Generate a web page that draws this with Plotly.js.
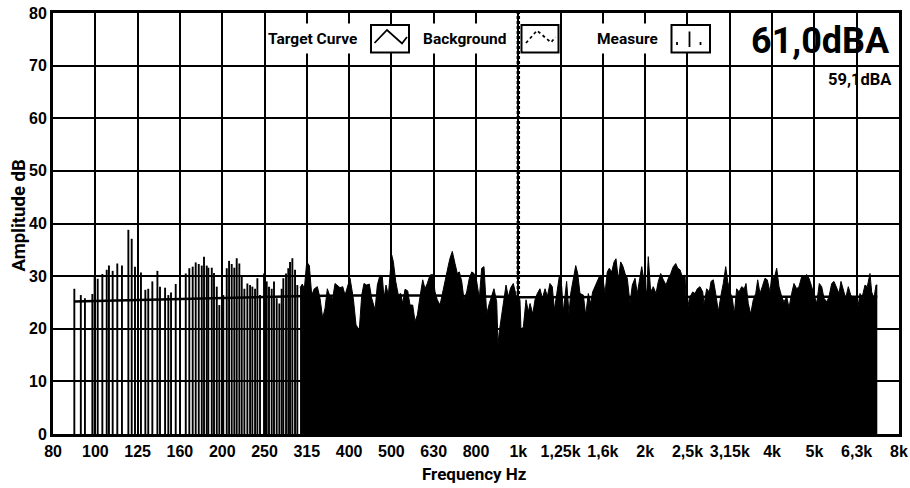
<!DOCTYPE html>
<html>
<head>
<meta charset="utf-8">
<script src="https://cdn.plot.ly/plotly-3.0.1.min.js"></script>
<style>html,body{margin:0;padding:0;background:#fff;}#chart{width:910px;height:488px;}</style>
</head>
<body>
<div id="chart"></div>
<script>
// ---- data ----
const tickFreq = [79.43, 100, 125.89, 158.49, 199.53, 251.19, 316.23, 398.11, 501.19, 630.96, 794.33, 1000, 1258.9, 1584.9, 1995.3, 2511.9, 3162.3, 3981.1, 5011.9, 6309.6, 7943.2];
const tickText = ['80','100','125','160','200','250','315','400','500','630','800','1k','1,25k','1,6k','2k','2,5k','3,15k','4k','5k','6,3k','8k'];
const yTicks = [0,10,20,30,40,50,60,70,80];

// individual FFT lines (low frequencies)
const lineFreq = [89.2, 92.4, 94.5, 98.4, 99.6, 101.3, 103.9, 106.4, 107.7, 109.9, 112.7, 115.6, 119.7, 121.9, 124.1, 128.2, 131.3, 133.4, 136.4, 140.2, 142.2, 146.2, 148.8, 151.0, 154.9, 158.6, 163.6, 166.8, 169.9, 172.7, 175.6, 178.5, 180.7, 183.4, 185.0, 188.5, 190.8, 193.7, 196.4, 200.7, 204.5, 207.1, 210.1, 213.1, 215.9, 219.0, 221.9, 225.1, 228.8, 232.2, 235.1, 238.6, 241.6, 245.1, 250.5, 254.2, 257.4, 261.2, 264.5, 268.4, 272.3, 275.8, 278.3, 282.4, 285.9, 288.6, 292.3, 296.6, 300.3];
const lineAmp = [27.6, 26.4, 25.8, 26.6, 30.1, 29.5, 30.4, 31.2, 32.0, 31.0, 32.4, 32.0, 38.8, 37.1, 31.8, 30.7, 27.4, 27.6, 29.0, 31.0, 28.0, 27.8, 26.4, 26.9, 28.5, 27.2, 30.5, 31.5, 31.8, 32.6, 32.3, 32.0, 33.7, 32.0, 31.6, 31.6, 30.6, 28.0, 24.5, 26.4, 31.5, 32.9, 32.3, 31.6, 33.4, 32.4, 29.9, 27.6, 28.6, 28.3, 28.0, 27.6, 29.6, 26.4, 30.5, 29.0, 28.0, 27.6, 29.0, 25.8, 24.8, 27.6, 29.6, 30.5, 31.5, 32.7, 33.4, 31.2, 28.3];

// dense part of the spectrum (peak envelope)
const denseFreq = [304.8, 308.6, 312.0, 316.1, 320.6, 324.8, 329.4, 334.9, 339.8, 344.8, 349.2, 353.6, 358.9, 364.2, 368.7, 373.4, 378.9, 384.5, 389.4, 400.1, 407.3, 413.4, 420.8, 426.4, 431.7, 438.1, 444.4, 450.2, 458.5, 464.2, 471.0, 477.0, 481.4, 486.7, 492.9, 502.0, 506.4, 513.1, 520.4, 527.3, 533.0, 539.7, 547.7, 554.6, 562.8, 569.9, 577.2, 585.6, 594.3, 601.8, 609.3, 618.5, 627.6, 635.5, 643.5, 653.0, 664.9, 674.7, 683.2, 689.5, 698.2, 708.5, 717.5, 725.4, 734.9, 744.2, 755.1, 765.9, 776.1, 785.8, 797.3, 808.7, 819.3, 829.7, 842.0, 854.0, 865.2, 876.0, 889.1, 895.4, 901.8, 913.7, 925.1, 935.3, 947.1, 959.5, 973.2, 987.6, 1009, 1015, 1028, 1043, 1056, 1066, 1082, 1095, 1109, 1125, 1140, 1157, 1171, 1188, 1203, 1217, 1233, 1250, 1266.5, 1277.5, 1301, 1318, 1330, 1349, 1367, 1382, 1399, 1425, 1443, 1464, 1483, 1499, 1518, 1537, 1560, 1583, 1603, 1623, 1641, 1663, 1684, 1702, 1724, 1746, 1765, 1788, 1810, 1837, 1860, 1888, 1911, 1932, 1958, 1983, 2012, 2029, 2056, 2085, 2116, 2143, 2171, 2202, 2235, 2263, 2293, 2325, 2356, 2382, 2412, 2442, 2478, 2501, 2537, 2584, 2617, 2650, 2689, 2729, 2748, 2788, 2829, 2855, 2891, 2929, 2971, 3015, 3052, 3093, 3127, 3166, 3206, 3241, 3283, 3325, 3374, 3422, 3454, 3497, 3543, 3594, 3642, 3681, 3727, 3774, 3830, 3878, 3936, 3972, 4029, 4082, 4134, 4195, 4247, 4311, 4365, 4429, 4485, 4552, 4609, 4677, 4737, 4807, 4867, 4939, 5001, 5075, 5147, 5215, 5281, 5359, 5427, 5507, 5576, 5659, 5731, 5793, 5866, 5943, 6028, 6108, 6195, 6276, 6344, 6424, 6505, 6601, 6685, 6783, 6846, 6932, 7009, 7059];
const denseAmp = [27.8, 28.5, 27.6, 32.7, 32.0, 26.4, 27.6, 28.0, 25.8, 22.0, 23.9, 27.6, 26.1, 25.8, 28.6, 28.3, 27.8, 28.0, 26.4, 29.6, 25.8, 20.7, 19.8, 26.4, 28.6, 28.3, 28.5, 25.8, 23.6, 28.3, 30.2, 29.9, 25.8, 28.3, 26.4, 34.0, 32.8, 29.0, 26.4, 26.7, 24.8, 27.5, 27.2, 24.5, 24.5, 21.4, 22.6, 26.1, 29.3, 27.6, 28.6, 30.2, 30.3, 27.0, 25.5, 24.5, 27.6, 30.5, 32.0, 33.4, 34.7, 32.4, 30.5, 30.8, 29.0, 25.5, 27.0, 29.6, 30.8, 30.5, 29.0, 25.8, 31.5, 31.8, 22.8, 24.8, 26.4, 27.6, 25.1, 17.0, 19.5, 22.6, 26.4, 28.3, 26.1, 27.8, 28.6, 26.4, 25.5, 19.6, 20.4, 25.5, 23.2, 24.8, 22.8, 25.5, 26.7, 27.6, 25.8, 27.6, 26.1, 28.6, 28.0, 23.6, 26.7, 29.9, 28.0, 23.2, 29.0, 22.8, 26.7, 29.9, 32.0, 30.5, 26.7, 26.4, 22.6, 26.7, 24.8, 27.0, 28.0, 29.3, 30.2, 29.9, 26.7, 30.8, 31.5, 30.8, 32.7, 33.3, 29.3, 32.7, 32.0, 30.5, 29.6, 24.8, 28.3, 29.6, 26.7, 29.0, 31.8, 29.0, 26.7, 33.7, 27.0, 28.0, 26.7, 29.0, 30.5, 29.3, 28.3, 29.6, 30.5, 31.8, 32.4, 31.5, 31.2, 29.9, 30.2, 22.6, 25.8, 27.0, 26.7, 27.6, 28.0, 27.0, 24.5, 27.6, 27.0, 29.0, 29.3, 26.7, 23.3, 26.4, 28.6, 31.8, 29.0, 27.0, 25.8, 22.8, 27.6, 27.0, 28.0, 27.6, 28.6, 24.8, 22.8, 25.5, 26.7, 29.3, 26.7, 28.0, 29.6, 29.3, 27.0, 29.9, 29.6, 31.5, 28.0, 26.1, 25.1, 26.1, 24.0, 26.7, 28.6, 27.6, 28.0, 29.9, 29.9, 30.3, 29.6, 28.0, 26.4, 24.8, 28.6, 28.0, 25.8, 25.1, 26.1, 28.6, 29.0, 27.6, 26.7, 29.0, 27.6, 25.8, 28.0, 26.4, 25.8, 26.1, 23.8, 26.7, 26.1, 28.3, 28.0, 30.5, 27.0, 25.8, 28.3, 28.3];

// target curve
const targetFreq = [89.2, 100, 125, 160, 200, 250, 315, 400, 500, 630, 1000, 2000, 4000, 7059];
const targetAmp  = [25.2, 25.3, 25.4, 25.6, 25.8, 26.0, 26.2, 26.3, 26.3, 26.3, 26.0, 26.1, 26.1, 26.1];

// cursor at 1 kHz
const cursorFreq = 1000;
const yRange = [0, 80];

// headline readings
const levelMain = '61,0dBA';
const levelSub = '59,1dBA';
const legendLabels = ['Target Curve', 'Background', 'Measure'];
const xTitle = 'Frequency Hz';
const yTitle = 'Amplitude dB';

// ---- build traces ----
const bx = [], by = [];
lineFreq.forEach((f, i) => { bx.push(f, f, null); by.push(0, lineAmp[i], null); });

const traces = [
  {x: bx, y: by, type: 'scatter', mode: 'lines', line: {color: '#000', width: 1.9}, hoverinfo: 'skip'},
  {x: denseFreq, y: denseAmp, type: 'scatter', mode: 'lines', fill: 'tozeroy', fillcolor: '#000', line: {color: '#000', width: 1}, hoverinfo: 'skip'},
  {x: targetFreq, y: targetAmp, type: 'scatter', mode: 'lines', line: {color: '#000', width: 2.5}, hoverinfo: 'skip'},
  {x: [cursorFreq, cursorFreq], y: yRange, type: 'scatter', mode: 'lines', line: {color: '#000', width: 3.5, dash: '3px,2px'}, hoverinfo: 'skip'}
];

// pixel helpers for the legend decorations (plot area 53..899 x 13..434)
const PX = X => (X - 53) / 846;
const PY = Y => (434 - Y) / 421;
const box = (x0, x1) => ({type: 'rect', xref: 'paper', yref: 'paper', x0: PX(x0), x1: PX(x1), y0: PY(52.5), y1: PY(25), line: {color: '#000', width: 2}, fillcolor: '#fff', layer: 'above'});
const pth = (pts, dash) => ({type: 'path', xref: 'paper', yref: 'paper', path: 'M ' + pts.map(p => PX(p[0]) + ',' + PY(p[1])).join(' L '), line: {color: '#000', width: 1.8, dash: dash || 'solid'}, layer: 'above'});

const shapes = [
  box(371, 409), pth([[374.5, 43], [387, 30], [402, 43.5], [407, 37]]),
  box(521.5, 558.5), pth([[526, 43], [537, 30.5], [551, 42.5], [555.5, 37]], 'dot'),
  box(671.5, 710), pth([[689.5, 31.5], [689.5, 47]]), pth([[677, 42], [677, 45]]), pth([[700.5, 42], [700.5, 45]])
];

const tfont = {family: 'Roboto, Liberation Sans, sans-serif', size: 15.5, color: '#000', weight: 'bold'};
const titleFont = {family: 'Roboto, Liberation Sans, sans-serif', size: 17, color: '#000', weight: 'bold'};
const annotations = [
  {text: legendLabels[0], x: PX(312.5), y: PY(38.5), xref: 'paper', yref: 'paper', xanchor: 'center', yanchor: 'middle', showarrow: false, font: tfont, bgcolor: '#fff', height: 27},
  {text: legendLabels[1], x: PX(465), y: PY(38.5), xref: 'paper', yref: 'paper', xanchor: 'center', yanchor: 'middle', showarrow: false, font: tfont, bgcolor: '#fff', height: 27},
  {text: legendLabels[2], x: PX(627.5), y: PY(38.5), xref: 'paper', yref: 'paper', xanchor: 'center', yanchor: 'middle', showarrow: false, font: tfont, bgcolor: '#fff', height: 27},
  {text: levelMain, x: PX(892), y: PY(41), xref: 'paper', yref: 'paper', xanchor: 'right', yanchor: 'middle', showarrow: false, font: {family: 'Roboto, Liberation Sans, sans-serif', size: 36, color: '#000', weight: 'bold'}},
  {text: levelSub, x: PX(894), y: PY(80), xref: 'paper', yref: 'paper', xanchor: 'right', yanchor: 'middle', showarrow: false, font: {family: 'Roboto, Liberation Sans, sans-serif', size: 16.5, color: '#000', weight: 'bold'}},
  {text: yTitle, textangle: -90, x: PX(18.5), y: PY(216), xref: 'paper', yref: 'paper', xanchor: 'center', yanchor: 'middle', showarrow: false, font: {family: 'Roboto, Liberation Sans, sans-serif', size: 18.5, color: '#000', weight: 'bold'}},
  {text: xTitle, x: PX(474), y: PY(474), xref: 'paper', yref: 'paper', xanchor: 'center', yanchor: 'middle', showarrow: false, font: titleFont}
];

const tickFont = {family: 'Liberation Sans, Arial, sans-serif', size: 16, color: '#000', weight: 'bold'};

const layout = {
  width: 910, height: 488,
  margin: {l: 53, r: 11, t: 13, b: 54, pad: 0},
  paper_bgcolor: '#fff', plot_bgcolor: '#fff',
  showlegend: false,
  xaxis: {
    type: 'log', range: [Math.log10(tickFreq[0]) - 0.00005, Math.log10(tickFreq[tickFreq.length - 1]) + 0.00005],
    tickmode: 'array', tickvals: tickFreq, ticktext: tickText, tickfont: tickFont,
    ticks: '', ticklabelstandoff: 1,
    showgrid: true, gridcolor: '#000', gridwidth: 2,
    showline: true, mirror: true, linecolor: '#000', linewidth: 3, zeroline: false
  },
  yaxis: {
    range: yRange, tickmode: 'array', tickvals: yTicks, ticktext: yTicks.map(String), tickfont: tickFont,
    ticks: '', ticklabelstandoff: 0,
    showgrid: true, gridcolor: '#000', gridwidth: 2,
    showline: true, mirror: true, linecolor: '#000', linewidth: 3, zeroline: false
  },
  shapes: shapes,
  annotations: annotations
};

Plotly.newPlot('chart', traces, layout, {staticPlot: true, displayModeBar: false});
</script>
</body>
</html>
